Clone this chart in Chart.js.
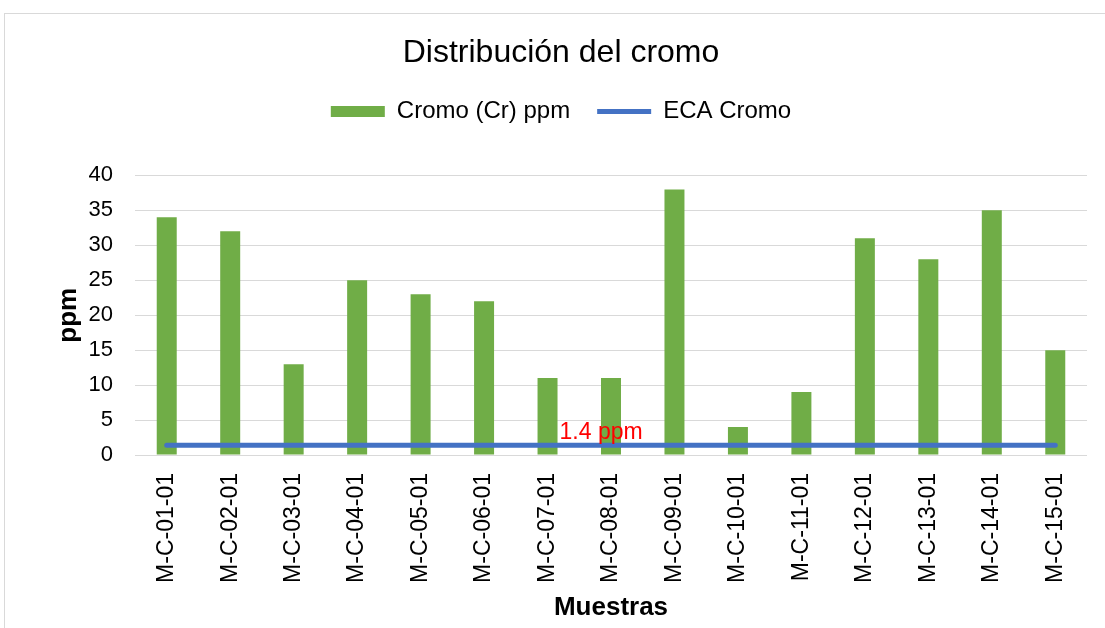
<!DOCTYPE html>
<html>
<head>
<meta charset="utf-8">
<script src="https://cdn.jsdelivr.net/npm/chart.js@4/dist/chart.umd.min.js"></script>
<style>
  html, body { margin: 0; padding: 0; background: #fff; overflow: hidden; }
  #wrap { position: relative; width: 1105px; height: 628px; }
  #frame { position: absolute; left: 4px; top: 13px; width: 1200px; height: 700px; border: 1px solid #d9d9d9; }
  #c { position: absolute; left: 0; top: 0; }
</style>
</head>
<body>
<div id="wrap">
  <div id="frame"></div>
  <canvas id="c" width="1105" height="628"></canvas>
</div>
<script>
// Distribución del cromo por muestra (ppm) y límite ECA
const SAMPLES = ['M-C-01-01', 'M-C-02-01', 'M-C-03-01', 'M-C-04-01', 'M-C-05-01',
  'M-C-06-01', 'M-C-07-01', 'M-C-08-01', 'M-C-09-01', 'M-C-10-01',
  'M-C-11-01', 'M-C-12-01', 'M-C-13-01', 'M-C-14-01', 'M-C-15-01'];
const CROMO = [34, 32, 13, 25, 23, 22, 11, 11, 38, 4, 9, 31, 28, 35, 15];
const ECA = [1.4, 1.4, 1.4, 1.4, 1.4, 1.4, 1.4, 1.4, 1.4, 1.4, 1.4, 1.4, 1.4, 1.4, 1.4];
const ECA_LABEL = '1.4 ppm';
const ECA_LABEL_AT = 6;

const FONT = '"Liberation Sans", Arial, sans-serif';
const barColor = '#70AD47';
const lineColor = '#4472C4';
const gridColor = '#d9d9d9';
const textColor = '#000';

new Chart(document.getElementById('c'), {
  data: {
    labels: SAMPLES,
    datasets: [
      {
        type: 'bar', label: 'Cromo (Cr) ppm', data: CROMO,
        backgroundColor: barColor, borderWidth: 0,
        barPercentage: 0.315, categoryPercentage: 1, order: 1,
        pointStyle: 'rect'
      },
      {
        type: 'line', label: 'ECA Cromo', data: ECA,
        borderColor: lineColor, backgroundColor: lineColor, borderWidth: 5,
        borderCapStyle: 'round', pointRadius: 0, order: 0,
        pointStyle: 'line'
      }
    ]
  },
  options: {
    responsive: false,
    animation: false,
    // left pad keeps title/legend centred on the outer frame
    layout: { padding: { top: 0, left: 35, right: 18, bottom: 0 } },
    plugins: {
      title: {
        display: true, text: 'Distribución del cromo', color: textColor,
        font: { family: FONT, size: 32, weight: 'normal' },
        padding: { top: 34, bottom: 0 }
      },
      legend: {
        display: true,
        labels: {
          color: textColor, font: { family: FONT, size: 24 },
          usePointStyle: true, pointStyleWidth: 54, boxHeight: 11, padding: 27,
          sort: (a, b) => a.datasetIndex - b.datasetIndex
        }
      },
      tooltip: { enabled: false }
    },
    scales: {
      x: {
        grid: { display: false },
        border: { display: false },
        ticks: {
          color: textColor, font: { family: FONT, size: 23 },
          minRotation: 90, maxRotation: 90, autoSkip: false, padding: 10
        },
        title: {
          display: true, text: 'Muestras', color: textColor,
          font: { family: FONT, size: 26, weight: 'bold' },
          padding: { top: 0, bottom: 5 }
        },
        afterFit: s => { s.height = 173; }
      },
      gap: {
        type: 'linear', position: 'top', axis: 'x', min: 0, max: 1,
        grid: { display: false }, border: { display: false },
        ticks: { display: false },
        afterFit: s => { s.height = 42; }
      },
      y: {
        min: 0, max: 40,
        grid: { color: gridColor, lineWidth: 1, drawTicks: false },
        border: { display: false },
        ticks: {
          stepSize: 5, color: textColor, font: { family: FONT, size: 22 }, padding: 22
        },
        title: {
          display: true, text: 'ppm', color: textColor,
          font: { family: FONT, size: 26, weight: 'bold' },
          padding: { top: 18, bottom: 0 }
        },
        afterFit: s => { s.width = 100; }
      }
    }
  },
  plugins: [{
    id: 'ecaLabel',
    afterDatasetsDraw(chart) {
      const meta = chart.getDatasetMeta(1);
      const pt = meta.data[ECA_LABEL_AT];
      if (!pt) return;
      const ctx = chart.ctx;
      ctx.save();
      ctx.font = '23px ' + FONT;
      ctx.fillStyle = '#FF0000';
      ctx.textAlign = 'left';
      ctx.textBaseline = 'alphabetic';
      ctx.fillText(ECA_LABEL, pt.x + 12, pt.y - 6);
      ctx.restore();
    }
  }]
});
</script>
</body>
</html>
